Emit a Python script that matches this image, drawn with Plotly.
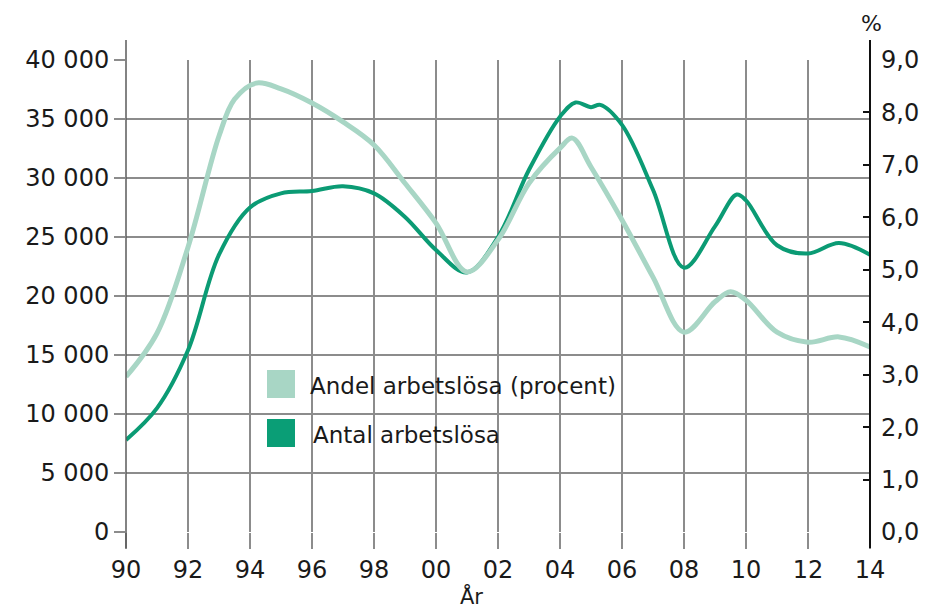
import plotly.graph_objects as go

# ---- data ----
years_count = [1990, 1991, 1992, 1993, 1994, 1995, 1996, 1997, 1998, 1999, 2000,
               2001, 2002, 2003, 2004, 2004.5, 2005, 2005.3, 2006, 2007, 2008,
               2009, 2009.7, 2010, 2011, 2012, 2013, 2014]
count_values = [7800, 10500, 15400, 23500, 27500, 28700, 28900, 29300, 28700, 26700, 23900,
                22000, 25000, 30700, 35200, 36400, 36000, 36200, 34500, 29000, 22400,
                25900, 28600, 28100, 24300, 23600, 24500, 23500]

years_pct = [1990, 1991, 1992, 1993, 1993.5, 1994.2, 1995, 1996, 1997, 1998, 1999, 2000,
             2001, 2002, 2003, 2004, 2004.4, 2005, 2006, 2007, 2008, 2009, 2009.5,
             2010, 2011, 2012, 2013, 2014]
pct_values = [2.96, 3.79, 5.43, 7.55, 8.25, 8.56, 8.45, 8.18, 7.82, 7.38, 6.65, 5.89,
              4.96, 5.57, 6.65, 7.32, 7.51, 6.96, 5.95, 4.86, 3.81, 4.39, 4.58,
              4.42, 3.81, 3.62, 3.72, 3.53]

x_tickvals = list(range(1990, 2015, 2))
x_ticktext = ["90", "92", "94", "96", "98", "00", "02", "04", "06", "08", "10", "12", "14"]
left_tickvals = list(range(0, 40001, 5000))
left_ticktext = ["0", "5 000", "10 000", "15 000", "20 000", "25 000", "30 000", "35 000", "40 000"]
right_tickvals = list(range(0, 10))
right_ticktext = ["0,0", "1,0", "2,0", "3,0", "4,0", "5,0", "6,0", "7,0", "8,0", "9,0"]

legend_labels = ["Andel arbetslösa (procent)", "Antal arbetslösa"]

LIGHT = "#a8d6c5"
DARK = "#0b9b74"
GRID = "#8c8c8c"
FONT = "DejaVu Sans"
TXT = "#1a1a1a"

fig = go.Figure()

fig.add_trace(go.Scatter(
    x=years_count, y=count_values, mode="lines", yaxis="y",
    line=dict(color=DARK, width=4, shape="spline", smoothing=1.0),
    showlegend=False, name=legend_labels[1]))
fig.add_trace(go.Scatter(
    x=years_pct, y=pct_values, mode="lines", yaxis="y2",
    line=dict(color=LIGHT, width=5, shape="spline", smoothing=1.0),
    showlegend=False, name=legend_labels[0]))

# the page has an 8px body margin; work in screen pixels and convert
OFF = 8
W, H = 928 - OFF, 609 - OFF
PL, PR, PT, PB = 126, 870, 60, 532          # plot area in screen pixels
L, R, T, B = PL - OFF, 928 - PR, PT - OFF, 609 - PB
pw = PR - PL
ph = PB - PT

def px_x(p):
    return (p - PL) / pw

def px_y(p):
    return (PB - p) / ph

fig.update_layout(
    width=W, height=H,
    margin=dict(l=L, r=R, t=T, b=B, pad=0, autoexpand=False),
    paper_bgcolor="white", plot_bgcolor="white",
    font=dict(family=FONT, color=TXT),
    xaxis=dict(range=[1990, 2014], tickvals=x_tickvals, ticktext=x_ticktext,
               showgrid=True, gridcolor=GRID, gridwidth=1.5, zeroline=False,
               ticks="outside", ticklen=16, tickcolor=GRID, tickwidth=1.5,
               automargin=False,
               showline=False, tickfont=dict(size=24, family=FONT, color=TXT)),
    yaxis=dict(range=[0, 40000], tickvals=left_tickvals, ticktext=left_ticktext,
               showgrid=True, gridcolor=GRID, gridwidth=1.5, zeroline=False,
               ticks="outside", ticklen=11, tickcolor=GRID, tickwidth=1.5,
               automargin=False,
               showline=False, tickfont=dict(size=24, family=FONT, color=TXT)),
    yaxis2=dict(range=[0, 9], tickvals=right_tickvals, ticktext=right_ticktext,
                overlaying="y", side="right", showgrid=False, zeroline=False,
                ticks="inside", ticklen=7, tickcolor="#111", tickwidth=1.5,
                ticklabelstandoff=10, automargin=False,
                showline=False, tickfont=dict(size=24, family=FONT, color=TXT)),
)

# axis lines extending beyond the grid
fig.add_shape(type="line", xref="paper", yref="paper", x0=0, x1=0,
              y0=px_y(548), y1=px_y(40), line=dict(color="#5a5a5a", width=1.5))
fig.add_shape(type="line", xref="paper", yref="paper", x0=1, x1=1,
              y0=px_y(548), y1=px_y(40), line=dict(color="#111", width=2))

# legend drawn manually (large square swatches)
fig.add_shape(type="rect", xref="paper", yref="paper",
              x0=px_x(267), x1=px_x(295), y0=px_y(398), y1=px_y(370),
              fillcolor=LIGHT, line=dict(width=0))
fig.add_shape(type="rect", xref="paper", yref="paper",
              x0=px_x(267), x1=px_x(295), y0=px_y(447), y1=px_y(419),
              fillcolor="#0a9e76", line=dict(width=0))
fig.add_annotation(xref="paper", yref="paper", x=px_x(308), y=px_y(386),
                   text=legend_labels[0], showarrow=False, xanchor="left", yanchor="middle",
                   font=dict(size=23, family=FONT, color=TXT))
fig.add_annotation(xref="paper", yref="paper", x=px_x(311), y=px_y(435),
                   text=legend_labels[1], showarrow=False, xanchor="left", yanchor="middle",
                   font=dict(size=23, family=FONT, color=TXT))

# unit label and axis title
fig.add_annotation(xref="paper", yref="paper", x=px_x(871), y=px_y(23),
                   text="%", showarrow=False, xanchor="center", yanchor="middle",
                   font=dict(size=22, family=FONT, color=TXT))
fig.add_annotation(xref="paper", yref="paper", x=px_x(471), y=px_y(596),
                   text="År", showarrow=False, xanchor="center", yanchor="middle",
                   font=dict(size=21, family=FONT, color=TXT))

fig.write_html("out.html")
